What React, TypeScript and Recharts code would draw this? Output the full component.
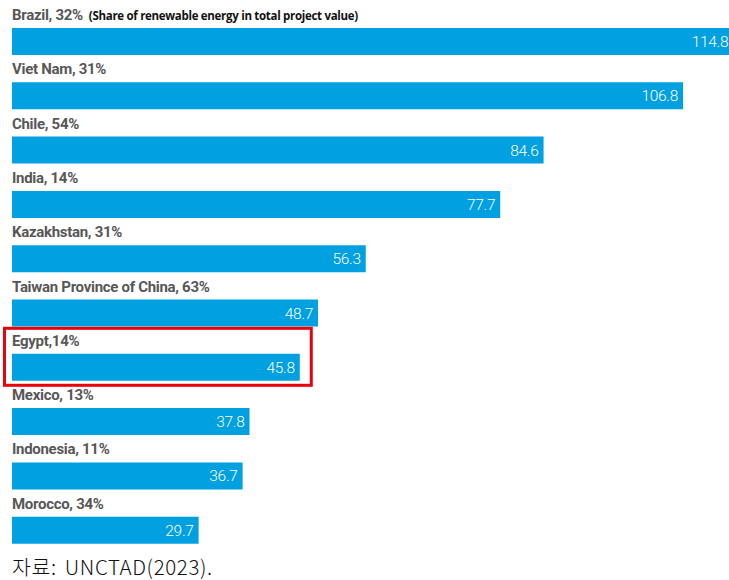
import React from "react";
import { BarChart, Bar, XAxis, YAxis, LabelList } from "recharts";

const countries = [
  "Brazil",
  "Viet Nam",
  "Chile",
  "India",
  "Kazakhstan",
  "Taiwan Province of China",
  "Egypt",
  "Mexico",
  "Indonesia",
  "Morocco",
];
const renewableShare = [32, 31, 54, 14, 31, 63, 14, 13, 11, 34];
const projectValue = [114.8, 106.8, 84.6, 77.7, 56.3, 48.7, 45.8, 37.8, 36.7, 29.7];
const highlighted = "Egypt";
const note = "(Share of renewable energy in total project value)";
const source = "자료: UNCTAD(2023).";

const data = countries.map((name, i) => ({
  name,
  label: name === "Egypt" ? `${name},${renewableShare[i]}%` : `${name}, ${renewableShare[i]}%`,
  value: projectValue[i],
}));

const BAR_COLOR = "#00a0e1";

function NameLabel(props: any) {
  const { x, y, width, height, index, value } = props;
  const name = data[index]?.name;
  return (
    <g>
      <text
        x={x}
        y={y - 8}
        fill="#575757"
        fontFamily="Roboto, sans-serif"
        fontWeight={700}
        fontSize={15}
        letterSpacing={-0.3}
      >
        {value}
        {index === 0 && (
          <tspan
            dx={6}
            fill="#111"
            fontFamily="'Open Sans', sans-serif"
            fontSize={11.5}
            fontWeight={700}
            letterSpacing={-0.3}
          >
            {note}
          </tspan>
        )}
      </text>
      {name === highlighted && (
        <rect
          x={x - 7.5}
          y={y - 25.5}
          width={width + 19}
          height={height + 30}
          fill="none"
          stroke="#e8000b"
          strokeWidth={3}
        />
      )}
    </g>
  );
}

export default function App() {
  return (
    <div
      style={{
        position: "fixed",
        left: 0,
        top: 0,
        width: 729,
        height: 580,
        overflow: "hidden",
        background: "#fff",
      }}
    >
      <BarChart
        width={766}
        height={557}
        data={data}
        layout="vertical"
        margin={{ top: 14, right: 0, bottom: 0, left: 12 }}
      >
        <XAxis type="number" domain={[0, 120]} hide />
        <YAxis type="category" dataKey="name" hide />
        <Bar dataKey="value" fill={BAR_COLOR} barSize={27} isAnimationActive={false}>
          <LabelList dataKey="label" content={<NameLabel />} />
          <LabelList
            dataKey="value"
            position="insideRight"
            offset={5}
            fill="#fff"
            fontFamily="Roboto, sans-serif"
            fontWeight={300}
            fontSize={15.5}
            letterSpacing={-0.3}
            formatter={(v: any) => Number(v).toFixed(1)}
          />
        </Bar>
      </BarChart>
      <div
        style={{
          position: "absolute",
          left: 12,
          top: 551,
          fontFamily: "'Noto Sans CJK KR', sans-serif",
          fontSize: 20.5,
          fontWeight: 300,
          color: "#111",
          wordSpacing: 3,
          letterSpacing: 0.6,
        }}
      >
        {source}
      </div>
    </div>
  );
}
